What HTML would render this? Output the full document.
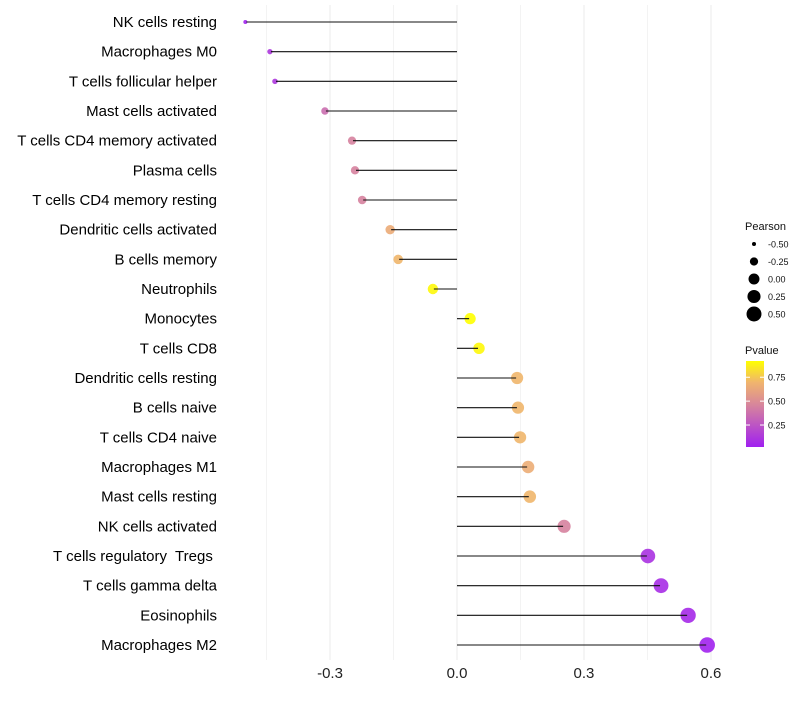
<!DOCTYPE html>
<html><head><meta charset="utf-8"><style>
body{margin:0;background:#fff;font-family:"Liberation Sans",sans-serif}
text{white-space:pre}
</style></head><body>
<svg id="c" width="800" height="700" style="font-family:'Liberation Sans',sans-serif"></svg>
<script>
const categories=["NK cells resting","Macrophages M0","T cells follicular helper","Mast cells activated","T cells CD4 memory activated","Plasma cells","T cells CD4 memory resting","Dendritic cells activated","B cells memory","Neutrophils","Monocytes","T cells CD8","Dendritic cells resting","B cells naive","T cells CD4 naive","Macrophages M1","Mast cells resting","NK cells activated","T cells regulatory  Tregs ","T cells gamma delta","Eosinophils","Macrophages M2"];
const pearson=[-0.50,-0.442,-0.43,-0.312,-0.248,-0.241,-0.224,-0.158,-0.139,-0.057,0.031,0.052,0.142,0.144,0.149,0.168,0.172,0.253,0.451,0.482,0.546,0.591];
const pvalue=[0.03,0.12,0.12,0.36,0.45,0.45,0.45,0.65,0.7,0.9,0.92,0.9,0.7,0.7,0.7,0.66,0.7,0.45,0.1,0.08,0.06,0.03];
const xTicks=[-0.3,0,0.3,0.6];
const xTickLabels=["-0.3","0.0","0.3","0.6"];
const sizeLegend=[-0.5,-0.25,0,0.25,0.5];
const sizeLegendLabels=["-0.50","-0.25","0.00","0.25","0.50"];
const pLegend=[0.25,0.5,0.75];
const pLegendLabels=["0.25","0.50","0.75"];

const NS="http://www.w3.org/2000/svg",svg=document.getElementById('c');
function mk(t,a,p){const e=document.createElementNS(NS,t);for(const k in a)e.setAttribute(k,a[k]);(p||svg).appendChild(e);return e;}
const x=v=>457+v*423.3;
const y=i=>22+i*29.667;
const r=v=>Math.sqrt(4+52*(v+0.5));
const stops=[[0,[160,32,240]],[0.5,[216,135,154]],[0.75,[240,180,110]],[1,[255,255,0]]];
function col(p){const t=Math.max(0,Math.min(1,(p-0.02)/0.9));for(let i=1;i<stops.length;i++){if(t<=stops[i][0]){const a=stops[i-1],b=stops[i],f=(t-a[0])/(b[0]-a[0]);return 'rgb('+a[1].map((c,j)=>Math.round(c+(b[1][j]-c)*f)).join(',')+')';}}return 'rgb(255,255,0)';}

for(let v=-0.45;v<=0.61;v+=0.15){const g=mk('line',{x1:x(v),x2:x(v),y1:5,y2:660,stroke:Math.abs(Math.round(v/0.15))%2===0?'#ebebeb':'#f3f3f3','stroke-width':1});
}
xTicks.forEach((v,i)=>{const t=mk('text',{x:x(v),y:678,'text-anchor':'middle','font-size':15,fill:'#222'});t.textContent=xTickLabels[i];
});
categories.forEach((c,i)=>{
 const t=mk('text',{x:217,y:y(i)+5,'text-anchor':'end','font-size':15,fill:'#000'});t.textContent=c;
 
 const d=mk('circle',{cx:x(pearson[i]),cy:y(i),r:r(pearson[i]),fill:col(pvalue[i]),'fill-opacity':0.9});
 
 const l=mk('line',{x1:x(0),x2:x(pearson[i])-Math.sign(pearson[i]),y1:y(i),y2:y(i),stroke:'#111','stroke-width':1.1});
 
});
let lt=mk('text',{x:745,y:230,'font-size':11,fill:'#111'});lt.textContent='Pearson';

sizeLegend.forEach((v,i)=>{const yy=244+i*17.5;
 const c=mk('circle',{cx:754,cy:yy,r:r(v),fill:'#000'});
 const t=mk('text',{x:768,y:yy+3.5,'font-size':9,fill:'#111'});t.textContent=sizeLegendLabels[i];
 });
lt=mk('text',{x:745,y:354,'font-size':11,fill:'#111'});lt.textContent='Pvalue';

const defs=mk('defs',{});const lg=mk('linearGradient',{id:'pg',x1:0,y1:1,x2:0,y2:0},defs);
stops.forEach(s=>mk('stop',{offset:s[0],'stop-color':'rgb('+s[1].join(',')+')'},lg));
const bar=mk('rect',{x:746,y:361,width:18,height:86,fill:'url(#pg)'});

const py=p=>447-(p-0.02)/0.9*86;
pLegend.forEach((p,i)=>{mk('line',{x1:746,x2:750,y1:py(p),y2:py(p),stroke:'#fff'});mk('line',{x1:760,x2:764,y1:py(p),y2:py(p),stroke:'#fff'});
 const t=mk('text',{x:768,y:py(p)+3.5,'font-size':9,fill:'#111'});t.textContent=pLegendLabels[i];
 });
</script>
</body></html>
